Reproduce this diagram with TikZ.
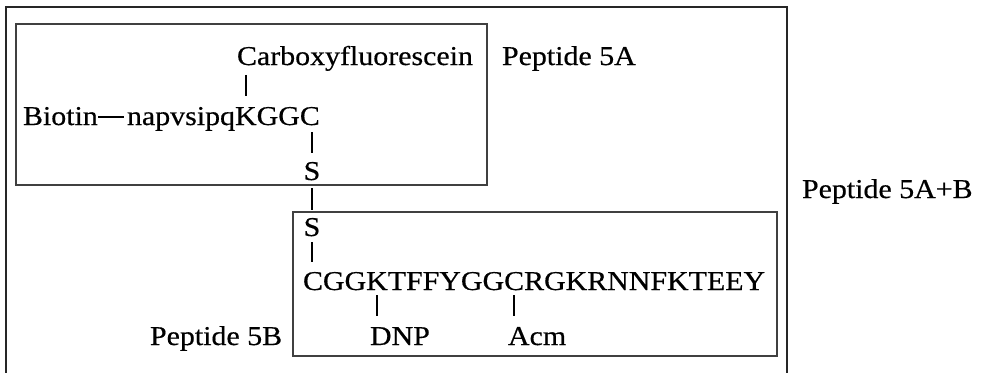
\documentclass[tikz,border=0pt]{standalone}
\usepackage{fontspec}
\setmainfont{Liberation Serif}[FakeStretch=1.1, FakeBold=0.5]
\begin{document}
\begin{tikzpicture}[x=1pt,y=-1pt,
  lbl/.style={inner sep=0pt, outer sep=0pt, anchor=base west, font=\fontsize{27.2}{33}\selectfont},
  sulfur/.style={lbl, anchor=base},
  bond/.style={line width=2.2pt, black},
  frame/.style={line width=1.2pt, black!75},
  outerframe/.style={line width=1.8pt, black!85}]
\useasboundingbox (0,0) rectangle (981,372);

% frames: conjugate (open at the bottom), peptide A, peptide B
\draw[outerframe] (6,373) -- (6,7) -- (787,7) -- (787,373);
\draw[frame] (16,24) rectangle (487,185);
\draw[frame] (293,212) rectangle (777,356);

% peptide A
\node[lbl] (carb) at (237,65) {Carboxyfluorescein};
\node[lbl] (bio) at (23,125) {Biotin};
\node[lbl] (napv) at (127,125) {napvsipq};
\node[lbl] (aK) at (napv.base east) {K};
\node[lbl] (aGG) at (aK.base east) {GG};
\node[lbl] (aC) at (aGG.base east) {C};

% disulfide bridge
\node[sulfur] (s1) at (312,180) {S};
\node[sulfur] (s2) at (312,236) {S};

% peptide B
\node[lbl] (bC) at (303,290) {C};
\node[lbl] (bGG) at (bC.base east) {GG};
\node[lbl] (bK) at (bGG.base east) {K};
\node[lbl] (bMid) at (bK.base east) {TFFYGG};
\node[lbl] (bC2) at (bMid.base east) {C};
\node[lbl] (bRest) at (bC2.base east) {RGKRNNFKTEEY};
\node[lbl] (dnp) at (370,345) {DNP};
\node[lbl] (acm) at (508,345) {Acm};

% captions
\node[lbl] (capA) at (502,65) {Peptide 5A};
\node[lbl] (capB) at (150,345) {Peptide 5B};
\node[lbl] (capAB) at (802,198) {Peptide 5A+B};

% bonds
\draw[bond, shorten <=0.5pt, shorten >=3pt] ([yshift=8pt]bio.base east) -- ([yshift=8pt]napv.base west);
\draw[bond, shorten <=4pt, shorten >=11pt] (aK.north |- carb.south) -- (aK.north);
\draw[bond, shorten <=7pt, shorten >=8.5pt] (s1.north |- aC.base) -- (s1.north);
\draw[bond, shorten <=8pt, shorten >=7.5pt] (s1.base) -- (s2.north);
\draw[bond, shorten <=6pt, shorten >=9.5pt] (s2.base) -- (s2.base |- bC.north);
\draw[bond, shorten <=5pt, shorten >=11pt] (bK.base) -- (bK.base |- dnp.north);
\draw[bond, shorten <=5pt, shorten >=11pt] (bC2.base) -- (bC2.base |- acm.north);
\end{tikzpicture}
\end{document}
